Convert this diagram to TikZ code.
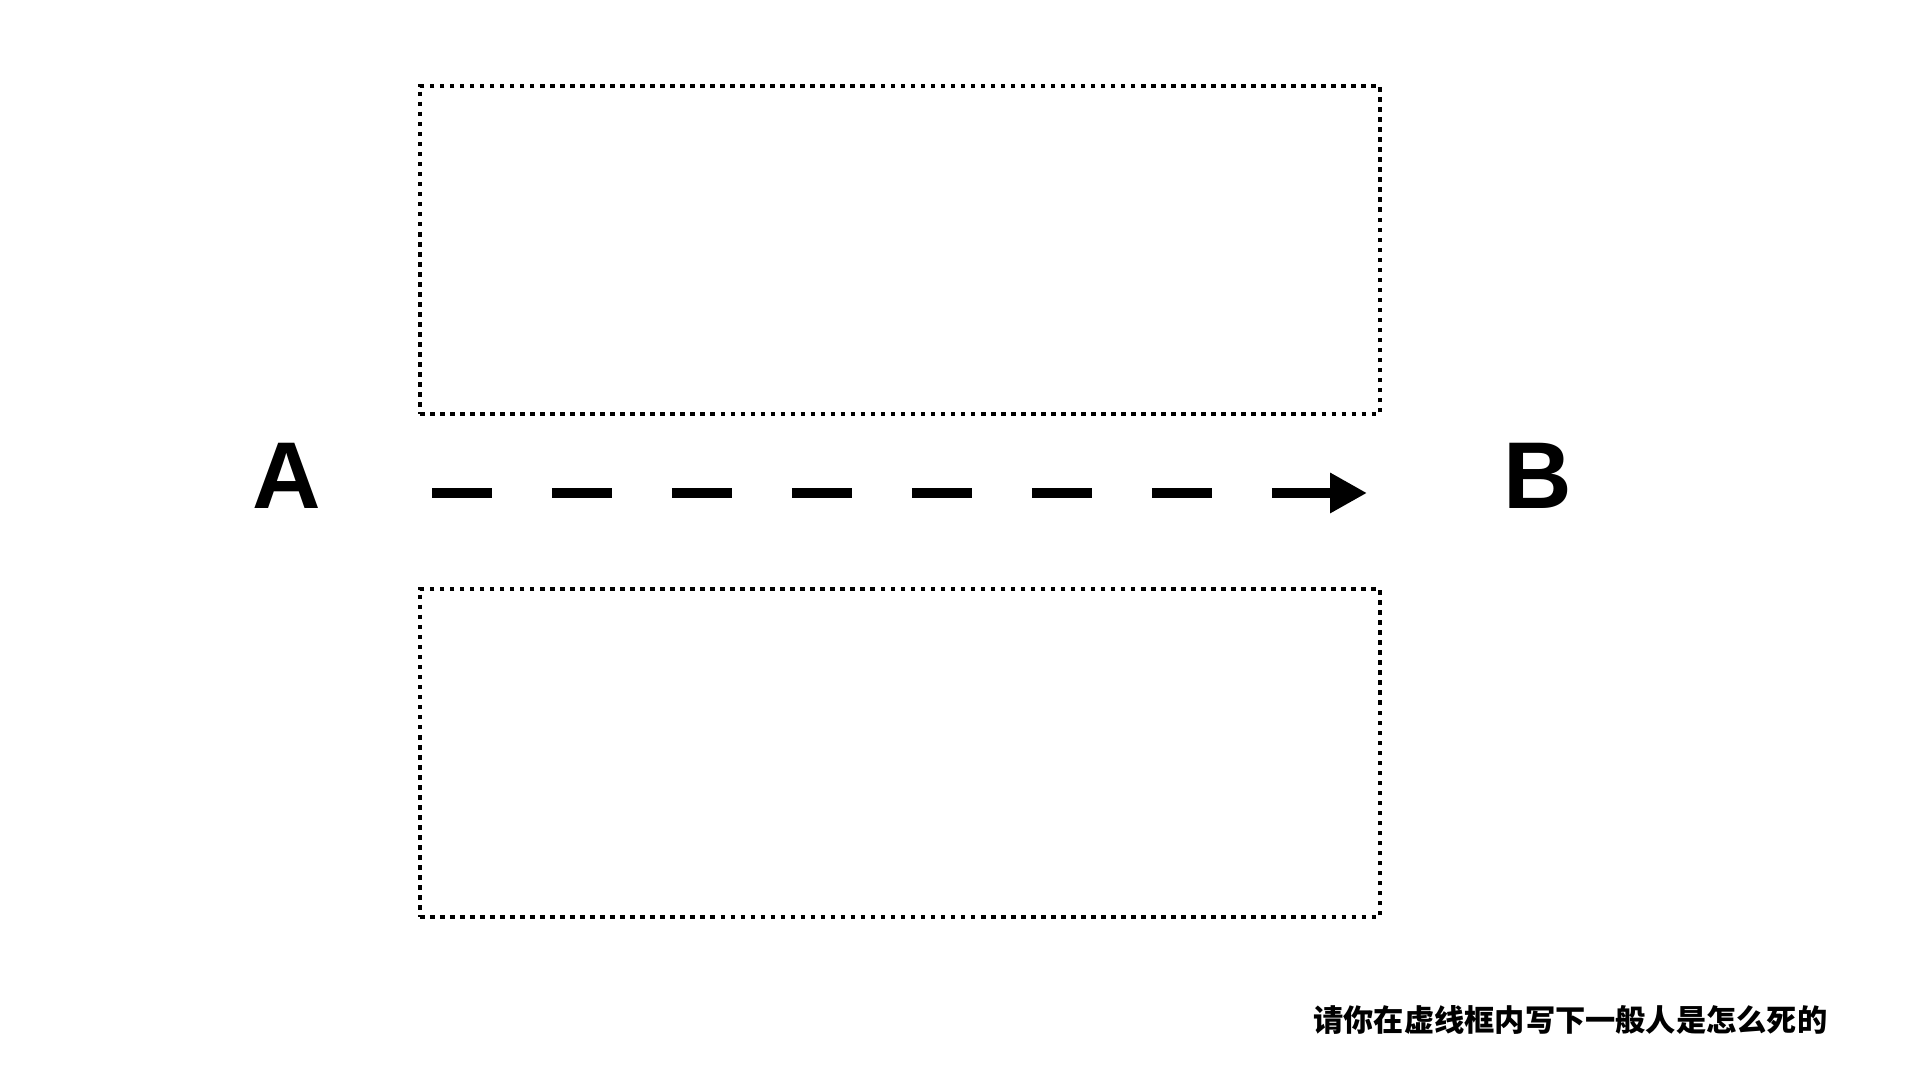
\documentclass[tikz,border=0pt]{standalone}
\usepackage{fontspec}
\setmainfont{Liberation Sans}
\newfontfamily\cjk{Noto Sans CJK SC}
\usetikzlibrary{arrows.meta}

\tikzset{
  answerbox/.style={draw, line width=1.3pt, dash pattern=on 1.3pt off 1.55pt,
    minimum width=9.6cm, minimum height=3.28cm, inner sep=0pt},
  endpoint/.style={font=\bfseries\fontsize{27pt}{30pt}\selectfont, inner sep=0pt},
  pathline/.style={line width=3.1pt, dash pattern=on 17.07pt off 17.07pt,
    -{Triangle[length=10.5pt,width=10.8pt]}}
}

\begin{document}
\begin{tikzpicture}

    % Fix the page size
    \useasboundingbox (0,0) rectangle (19.2,10.8);

    % Define the points
    \coordinate (start) at (4.32, 5.87);
    \coordinate (finish) at (13.67, 5.87);

    % Draw the two dotted boxes
    \node[answerbox] (upper) at (9.0, 8.30) {};
    \node[answerbox] (lower) at (9.0, 3.27) {};

    % Label the end points
    \node[endpoint] (A) at (2.87, 6.04) {A};
    \node[endpoint] (B) at (15.38, 6.04) {B};

    % Draw the dashed arrow
    \draw[pathline] (start) -- (finish);

    % Caption
    \node[anchor=east, inner sep=0pt] (caption) at (18.28, 0.60)
        {\cjk\bfseries\fontsize{8.6pt}{10pt}\selectfont 请你在虚线框内写下一般人是怎么死的};

\end{tikzpicture}
\end{document}
